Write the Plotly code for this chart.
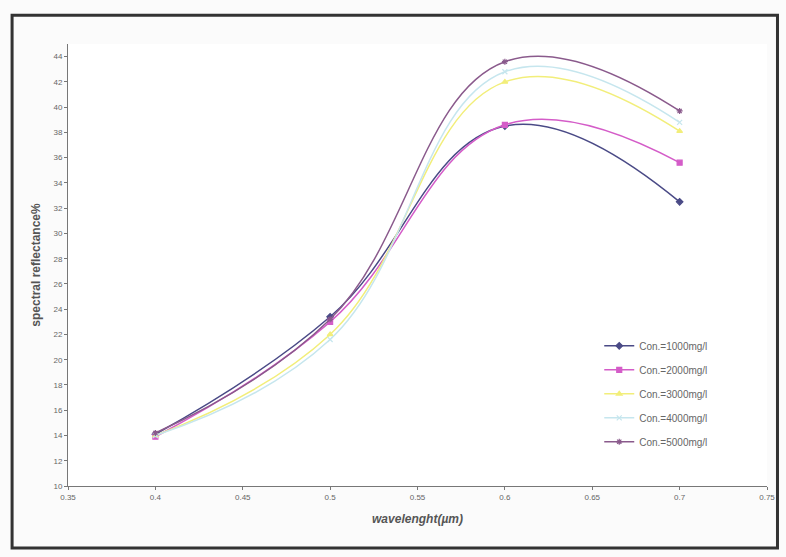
import plotly.graph_objects as go

wavelength = [0.4, 0.5, 0.6, 0.7]
series_names = ["Con.=1000mg/l", "Con.=2000mg/l", "Con.=3000mg/l", "Con.=4000mg/l", "Con.=5000mg/l"]
con_1000 = [14.1, 23.4, 38.5, 32.5]
con_2000 = [13.9, 23.0, 38.6, 35.6]
con_3000 = [14.0, 22.0, 42.0, 38.1]
con_4000 = [14.0, 21.6, 42.8, 38.8]
con_5000 = [14.2, 23.2, 43.6, 39.7]
all_values = [con_1000, con_2000, con_3000, con_4000, con_5000]

x_tickvals = [0.35, 0.4, 0.45, 0.5, 0.55, 0.6, 0.65, 0.7, 0.75]
x_ticktext = ["0.35", "0.4", "0.45", "0.5", "0.55", "0.6", "0.65", "0.7", "0.75"]
y_tickvals = list(range(10, 46, 2))

colors = ["#4a4a86", "#d45cc8", "#f2ee7a", "#c6e6ee", "#8a5a8c"]
symbols = ["diamond", "square", "triangle-up", "x-thin-open", "asterisk-open"]

fig = go.Figure()
for i, (name, vals) in enumerate(zip(series_names, all_values)):
    fig.add_trace(go.Scatter(
        x=wavelength, y=vals, name=name, mode="lines+markers",
        line=dict(color=colors[i], width=1.5, shape="spline", smoothing=1.2),
        marker=dict(color=colors[i], size=5, symbol=symbols[i],
                    line=dict(color=colors[i], width=1.2)),
        legendgroup=str(i),
    ))

tickfont = dict(family="Liberation Sans, Arial", size=8, color="#666666")
fig.update_layout(
    width=786, height=557,
    paper_bgcolor="#fbfbfb", plot_bgcolor="#ffffff",
    margin=dict(l=68, r=19, t=44, b=71),
    showlegend=True,
    legend=dict(x=0.76, y=0.35, xanchor="left", yanchor="top",
                font=dict(family="Liberation Sans, Arial", size=10, color="#666666"),
                bgcolor="rgba(0,0,0,0)", tracegroupgap=5, itemwidth=30),
    xaxis=dict(range=[0.35, 0.75], tickvals=x_tickvals, ticktext=x_ticktext,
               showgrid=False, zeroline=False, showline=True, linecolor="#777777",
               linewidth=1, ticks="outside", ticklen=3, tickcolor="#777777",
               tickfont=tickfont,
               title=dict(text="<b><i>wavelenght(µm)</i></b>", standoff=14,
                          font=dict(family="Liberation Sans, Arial", size=12, color="#555555"))),
    yaxis=dict(range=[10, 45], tickvals=y_tickvals, showgrid=False, zeroline=False,
               showline=True, linecolor="#777777", linewidth=1, ticks="outside",
               ticklen=3, tickcolor="#777777", tickfont=tickfont,
               title=dict(text="<b>spectral reflectance%</b>", standoff=10,
                          font=dict(family="Liberation Sans, Arial", size=12, color="#555555"))),
    shapes=[dict(type="rect", xref="paper", yref="paper", x0=-0.08, x1=1.015,
                 y0=-0.14, y1=1.065, line=dict(color="#333333", width=3))],
)

fig.write_html("out.html")
